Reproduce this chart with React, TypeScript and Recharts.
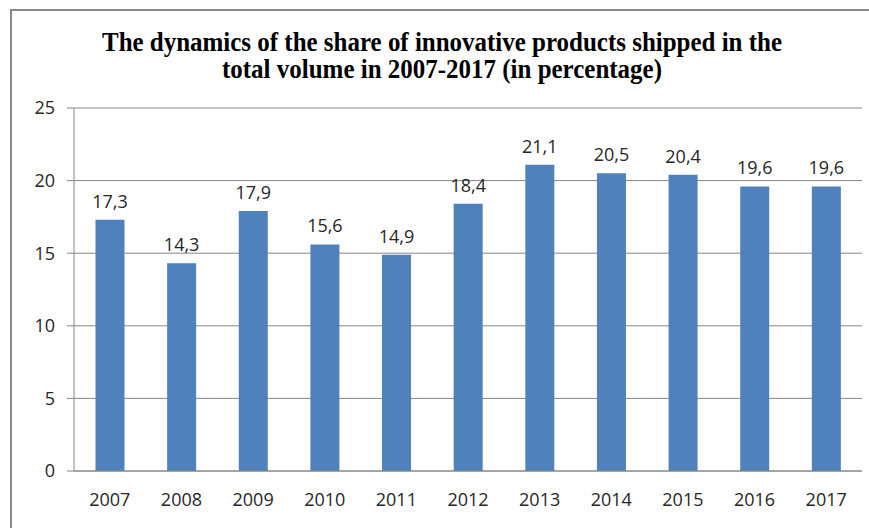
import React from 'react';
import { BarChart, Bar, XAxis, YAxis, CartesianGrid, LabelList } from 'recharts';

// share of innovative products shipped, % of total volume
const years = ['2007', '2008', '2009', '2010', '2011', '2012', '2013', '2014', '2015', '2016', '2017'];
const shares = [17.3, 14.3, 17.9, 15.6, 14.9, 18.4, 21.1, 20.5, 20.4, 19.6, 19.6];
const yTicks = [0, 5, 10, 15, 20, 25];
const edgeTicks = [0, 1, 2, 3, 4, 5, 6, 7, 8, 9, 10, 11];

const data = years.map((year, i) => ({ year, share: shares[i] }));

const axisColor = '#868686';
const textColor = '#262626';
const tickFont = { fill: textColor, fontSize: 18, fontFamily: '"Open Sans", "Liberation Sans", sans-serif' };
const titleFont = { fontFamily: '"Liberation Serif", "Times New Roman", serif', fontWeight: 700, fontSize: 27, fill: '#000' };

export default function App() {
  return (
    <div style={{ position: 'absolute', left: 0, top: 0, width: 869, height: 528, background: '#fff', overflow: 'hidden' }}>
      {/* frame of the figure */}
      <div
        style={{
          position: 'absolute',
          left: 10,
          top: 9,
          width: 880,
          height: 540,
          borderLeft: '2px solid #8a8a8a',
          borderTop: '2px solid #8a8a8a',
        }}
      />
      <svg width={869} height={100} style={{ position: 'absolute', left: 0, top: 0 }}>
        <text x={442} y={51} textAnchor="middle" textLength={680} lengthAdjust="spacingAndGlyphs" style={titleFont}>
          The dynamics of the share of innovative products shipped in the
        </text>
        <text x={442} y={78} textAnchor="middle" textLength={440} lengthAdjust="spacingAndGlyphs" style={titleFont}>
          total volume in 2007-2017 (in percentage)
        </text>
      </svg>
      <div style={{ position: 'absolute', left: 0, top: 0 }}>
        <BarChart
          width={869}
          height={528}
          data={data}
          margin={{ top: 108, right: 7, left: 14, bottom: 27 }}
          barCategoryGap="30%"
        >
          <CartesianGrid vertical={false} stroke={axisColor} strokeWidth={1} />
          <XAxis
            dataKey="year"
            tickLine={false}
            axisLine={{ stroke: axisColor }}
            tickSize={0}
            tickMargin={22}
            tick={tickFont}
            interval={0}
            height={30}
          />
          {/* boundary tick marks between categories */}
          <XAxis
            xAxisId="edges"
            type="number"
            domain={[0, 11]}
            ticks={edgeTicks}
            allowDataOverflow
            axisLine={false}
            tickLine={{ stroke: axisColor }}
            tickSize={7}
            tickFormatter={() => ''}
            height={0}
          />
          <YAxis
            domain={[0, 25]}
            ticks={yTicks}
            width={60}
            axisLine={{ stroke: axisColor }}
            tickLine={{ stroke: axisColor }}
            tickSize={7}
            tickMargin={12}
            tick={tickFont}
          />
          <Bar dataKey="share" fill="#4F81BD" isAnimationActive={false}>
            <LabelList
              dataKey="share"
              position="top"
              offset={12}
              formatter={(v: number) => String(v).replace('.', ',')}
              style={tickFont}
              fill={textColor}
            />
          </Bar>
        </BarChart>
      </div>
    </div>
  );
}
